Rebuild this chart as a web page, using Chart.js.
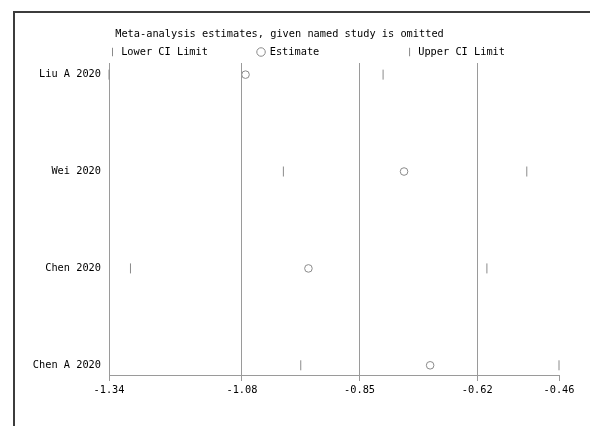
<!DOCTYPE html>
<html>
<head>
<meta charset="utf-8">
<script src="https://cdn.jsdelivr.net/npm/chart.js@4"></script>
<style>
  html, body { margin: 0; padding: 0; background: #fff; }
  #wrap { position: relative; width: 590px; height: 426px; overflow: hidden; }
  #frame {
    position: absolute; left: 13px; top: 11px; right: -10px; bottom: -10px;
    border-top: 2px solid #3c3c3c; border-left: 2px solid #3c3c3c;
    pointer-events: none;
  }
</style>
</head>
<body>
<div id="wrap">
  <canvas id="chart"></canvas>
  <div id="frame"></div>
</div>
<script>
const studies = ['Liu A 2020', 'Wei 2020', 'Chen 2020', 'Chen A 2020'];
const lowerCI = [-1.340, -0.999, -1.298, -0.965];
const estimate = [-1.073, -0.763, -0.950, -0.712];
const upperCI = [-0.804, -0.523, -0.601, -0.460];
const xTicks = [-1.34, -1.08, -0.85, -0.62, -0.46];
const xTickLabels = ['-1.34', '-1.08', '-0.85', '-0.62', '-0.46'];

const titleText = 'Meta-analysis estimates, given named study is omitted';
const legendLabels = ['Lower CI Limit', 'Estimate', 'Upper CI Limit'];

const lineGray = '#9a9a9a';
const markGray = '#8a8a8a';
const fontSize = 10.3;

Chart.defaults.font.family = '"DejaVu Sans Mono", "Liberation Mono", monospace';
Chart.defaults.font.size = fontSize;
Chart.defaults.color = '#000';

// row position: first study at the top
const rowY = i => studies.length - i;
const toPoints = values => values.map((v, i) => ({ x: v, y: rowY(i) }));

new Chart(document.getElementById('chart'), {
  type: 'scatter',
  data: {
    datasets: [
      {
        label: legendLabels[0],
        data: toPoints(lowerCI),
        pointStyle: 'line',
        rotation: 90,
        radius: 5,
        borderColor: markGray,
        borderWidth: 1,
        clip: false
      },
      {
        label: legendLabels[1],
        data: toPoints(estimate),
        pointStyle: 'circle',
        radius: 3.8,
        backgroundColor: '#fff',
        borderColor: markGray,
        borderWidth: 1,
        clip: false
      },
      {
        label: legendLabels[2],
        data: toPoints(upperCI),
        pointStyle: 'line',
        rotation: 90,
        radius: 5,
        borderColor: markGray,
        borderWidth: 1,
        clip: false
      }
    ]
  },
  options: {
    responsive: true,
    maintainAspectRatio: false,
    animation: false,
    events: [],
    layout: { padding: { top: 13.8, left: 0, right: 31, bottom: 0 } },
    scales: {
      x: {
        type: 'linear',
        min: xTicks[0],
        max: xTicks[xTicks.length - 1],
        afterBuildTicks: scale => { scale.ticks = xTicks.map(v => ({ value: v })); },
        afterFit: scale => { scale.height = 51; },
        ticks: {
          autoSkip: false,
          maxRotation: 0,
          padding: 3,
          callback: (value, i) => xTickLabels[i]
        },
        grid: {
          color: c => (c.index === 0 || c.index === xTicks.length - 1) ? 'rgba(0,0,0,0)' : lineGray,
          tickColor: lineGray,
          tickLength: 6,
          lineWidth: 1
        },
        border: { color: lineGray, width: 1 }
      },
      y: {
        type: 'linear',
        min: 0.9,
        max: 4.12,
        afterBuildTicks: scale => { scale.ticks = studies.map((s, i) => ({ value: rowY(i) })); },
        afterFit: scale => { scale.width = 109; },
        ticks: {
          padding: 8,
          callback: value => studies[studies.length - value]
        },
        grid: { display: false, drawTicks: false },
        border: { display: true, color: lineGray, width: 1 }
      }
    },
    plugins: {
      tooltip: { enabled: false },
      title: {
        display: true,
        text: titleText,
        align: 'center',
        fullSize: true,
        color: '#000',
        font: { size: fontSize, weight: 'normal' },
        padding: { top: 14, bottom: 6.7 }
      },
      legend: {
        display: true,
        position: 'top',
        align: 'start',
        fullSize: false,
        maxHeight: 16.15,
        labels: {
          usePointStyle: true,
          boxWidth: 7,
          boxHeight: 6,
          padding: 0,
          color: '#000',
          font: { size: fontSize },
          generateLabels: chart => chart.data.datasets.map((ds, i) => ({
            // trailing spaces keep the three legend columns evenly spaced
            text: i < 2 ? ds.label.padEnd(22, ' ') : ds.label,
            pointStyle: ds.pointStyle,
            rotation: ds.rotation || 0,
            fillStyle: ds.backgroundColor || markGray,
            strokeStyle: ds.borderColor,
            lineWidth: 1,
            fontColor: '#000',
            datasetIndex: i
          }))
        }
      }
    }
  }
});
</script>
</body>
</html>
